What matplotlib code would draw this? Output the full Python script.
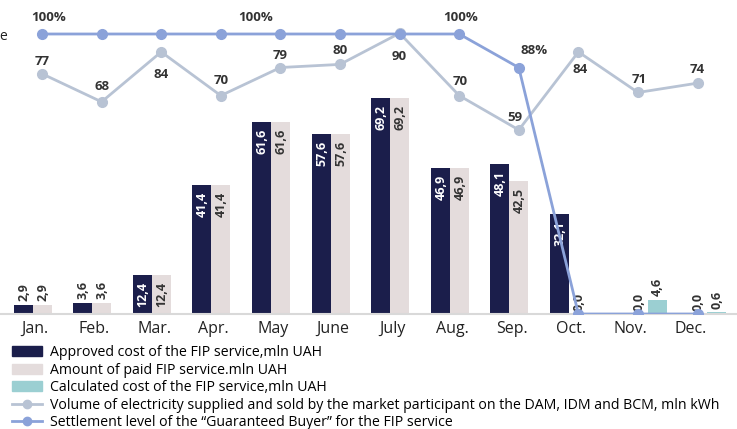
import numpy as np
import matplotlib
matplotlib.use("Agg")
import matplotlib.pyplot as plt
from matplotlib.patches import Patch
from matplotlib.lines import Line2D

plt.rcParams['font.family'] = ['Open Sans', 'DejaVu Sans']

months = ["Jan.", "Feb.", "Mar.", "Apr.", "May", "June", "July", "Aug.", "Sep.", "Oct.", "Nov.", "Dec."]
approved = [2.9, 3.6, 12.4, 41.4, 61.6, 57.6, 69.2, 46.9, 48.1, 32.1, np.nan, np.nan]
paid = [2.9, 3.6, 12.4, 41.4, 61.6, 57.6, 69.2, 46.9, 42.5, 0.0, 0.0, 0.0]
calculated = [np.nan] * 10 + [4.6, 0.6]
volume = [77, 68, 84, 70, 79, 80, 90, 70, 59, 84, 71, 74]
settlement = [100, 100, 100, 100, 100, 100, 100, 100, 88, 0, 0, 0]

C_APP = "#1b1e4b"
C_PAID = "#e4dcdc"
C_CALC = "#9bcfd2"
C_VOL = "#b8c3d4"
C_SET = "#8ba2d9"
C_TXT = "#333333"

W, H = 737, 429
fig = plt.figure(figsize=(W / 100, H / 100), dpi=100)
ax = fig.add_axes([0, (H - 314) / H, 1, 314 / H])
px_per_month = 59.6
x0 = 42
ax.set_xlim(-x0 / px_per_month, (W - x0) / px_per_month)
ax.set_ylim(0, 314 / 3.12)

x = np.arange(len(months))
bw = 19 / px_per_month

fmt = lambda v: f"{v:.1f}".replace('.', ',')

def add_labels(xs, vals, inside_color, threshold=10):
    for xi, v in zip(xs, vals):
        if np.isnan(v):
            continue
        if v >= threshold:
            ax.annotate(fmt(v), (xi, v), xytext=(0.5, -5), textcoords='offset points',
                        rotation=90, ha='center', va='top', fontsize=9, fontweight='bold',
                        color=inside_color)
        else:
            ax.annotate(fmt(v), (xi, v), xytext=(0.5, 2.5), textcoords='offset points',
                        rotation=90, ha='center', va='bottom', fontsize=9, fontweight='bold',
                        color=C_TXT)

ax.bar(x - bw, approved, bw, color=C_APP, zorder=2)
ax.bar(x, paid, bw, color=C_PAID, zorder=2)
ax.bar(x + bw, calculated, bw, color=C_CALC, zorder=2)
add_labels(x - bw, approved, "white")
add_labels(x, paid, C_TXT)
add_labels(x + bw, calculated, C_TXT)

ax.plot(x, volume, color=C_VOL, lw=2, marker='o', ms=7, zorder=3)
vol_off = [(0, 9), (0, 11), (0, -16), (0, 11), (0, 9), (0, 10), (0, -17), (1, 10), (-3, 9), (1, -13), (1, 9), (0, 10)]
for xi, v, (dx, dy) in zip(x, volume, vol_off):
    ax.annotate(str(v), (xi, v), xytext=(dx, dy), textcoords='offset points',
                ha='center', va='center', fontsize=9.5, fontweight='bold', color=C_TXT)

for s in ['top', 'right', 'left']:
    ax.spines[s].set_visible(False)
ax.spines['bottom'].set_color('#d9d9d9')
ax.spines['bottom'].set_linewidth(1.5)
ax.set_yticks([])
ax.set_xticks(x - 0.12)
ax.set_xticklabels(months, fontsize=11.5, color='#222222')
ax.tick_params(axis='x', length=0, pad=5)

ax2 = ax.twinx()
ax2.set_ylim(0, 314 / 2.8)
ax2.plot(x, settlement, color=C_SET, lw=2, marker='o', ms=7, zorder=4)
set_lab = {0: (5, 12, "100%"), 4: (-18, 12, "100%"), 7: (1, 12, "100%"), 8: (11, 12, "88%")}
for i, (dx, dy, t) in set_lab.items():
    ax2.annotate(t, (x[i], settlement[i]), xytext=(dx, dy), textcoords='offset points',
                 ha='center', va='center', fontsize=9.5, fontweight='bold', color=C_TXT)
ax2.axis('off')

fig.text(7 / W, 1 - 36 / H, "e", ha='right', va='center', fontsize=10, color='#222222')

handles = [
    Patch(color=C_APP),
    Patch(color=C_PAID),
    Patch(color=C_CALC),
    Line2D([], [], color=C_VOL, lw=2, marker='o', ms=6),
    Line2D([], [], color=C_SET, lw=2, marker='o', ms=6),
]
labels = [
    "Approved cost of the FIP service,mln UAH",
    "Amount of paid FIP service.mln UAH",
    "Calculated cost of the FIP service,mln UAH",
    "Volume of electricity supplied and sold by the market participant on the DAM, IDM and BCM, mln kWh",
    "Settlement level of the \u201cGuaranteed Buyer\u201d for the FIP service",
]
fig.legend(handles, labels, loc='upper left', bbox_to_anchor=(12 / W, 1 - 345 / H),
           frameon=False, fontsize=10.2, handlelength=2.1, handletextpad=0.55,
           labelspacing=0.18, borderaxespad=0, borderpad=0)

fig.savefig("out.png", dpi=100)
